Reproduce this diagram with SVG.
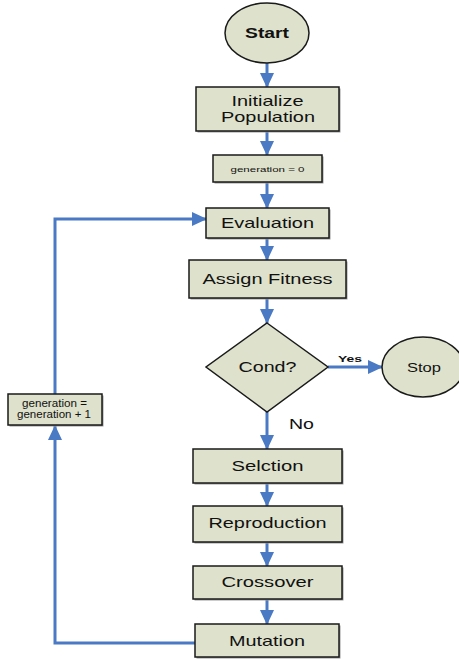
<svg xmlns="http://www.w3.org/2000/svg" width="459" height="659" viewBox="0 0 459 659">
<style>
.n{fill:#dee1cb;stroke:#1a1a1a;stroke-width:1.5}
.sh{fill:#9a9a9a;stroke:none}
.t{font-family:"Liberation Sans",Arial,sans-serif;fill:#111;text-anchor:middle}
.c{fill:none;stroke:#4a7ac4;stroke-width:3}
</style>
<defs>
<marker id="ah" markerUnits="userSpaceOnUse" markerWidth="15" markerHeight="14" refX="14" refY="7" orient="auto">
<path d="M0,0 L15,7 L0,14 Z" fill="#4a7ac4"/>
</marker>
</defs>
<rect width="459" height="659" fill="#fff"/>
<g id="connectors">
<line class="c" x1="267" y1="63" x2="267" y2="87" marker-end="url(#ah)"/>
<line class="c" x1="267" y1="131" x2="267" y2="155" marker-end="url(#ah)"/>
<line class="c" x1="267" y1="182" x2="267" y2="208" marker-end="url(#ah)"/>
<line class="c" x1="267" y1="238" x2="267" y2="260" marker-end="url(#ah)"/>
<line class="c" x1="267" y1="298" x2="267" y2="323" marker-end="url(#ah)"/>
<line class="c" x1="328" y1="367" x2="382" y2="367" marker-end="url(#ah)"/>
<line class="c" x1="267" y1="412" x2="267" y2="449" marker-end="url(#ah)"/>
<line class="c" x1="267" y1="483" x2="267" y2="506" marker-end="url(#ah)"/>
<line class="c" x1="267" y1="542" x2="267" y2="566" marker-end="url(#ah)"/>
<line class="c" x1="267" y1="599" x2="267" y2="624" marker-end="url(#ah)"/>
<polyline class="c" points="195,643 55,643 55,426" marker-end="url(#ah)"/>
<polyline class="c" points="55,394 55,219 206,219" marker-end="url(#ah)"/>
<text class="t" x="350" y="362" font-size="9.5" font-weight="bold" textLength="24" lengthAdjust="spacingAndGlyphs">Yes</text>
<text class="t" x="301.5" y="429" font-size="14.5" textLength="25" lengthAdjust="spacingAndGlyphs">No</text>
</g>
<g id="start">
<ellipse class="n" cx="267" cy="33" rx="42" ry="30"/>
<text class="t" x="267" y="38" font-size="14.5" font-weight="bold" textLength="44" lengthAdjust="spacingAndGlyphs">Start</text>
</g>
<g id="init">
<rect class="sh" x="197.5" y="88.5" width="143" height="44"/>
<rect class="n" x="196" y="87" width="143" height="44"/>
<text class="t" x="267.5" y="106" font-size="14.5" textLength="72" lengthAdjust="spacingAndGlyphs">Initialize</text>
<text class="t" x="268" y="122" font-size="14.5" textLength="94" lengthAdjust="spacingAndGlyphs">Population</text>
</g>
<g id="gen0">
<rect class="sh" x="214.5" y="156.5" width="109" height="27"/>
<rect class="n" x="213" y="155" width="109" height="27"/>
<text class="t" x="267.5" y="172" font-size="8" textLength="74" lengthAdjust="spacingAndGlyphs">generation = 0</text>
</g>
<g id="evaluation">
<rect class="sh" x="207.5" y="209.5" width="123" height="30"/>
<rect class="n" x="206" y="208" width="123" height="30"/>
<text class="t" x="267.5" y="228" font-size="14.5" textLength="93" lengthAdjust="spacingAndGlyphs">Evaluation</text>
</g>
<g id="fitness">
<rect class="sh" x="190.5" y="261.5" width="157" height="38"/>
<rect class="n" x="189" y="260" width="157" height="38"/>
<text class="t" x="267.5" y="284" font-size="14.5" textLength="130" lengthAdjust="spacingAndGlyphs">Assign Fitness</text>
</g>
<g id="cond">
<polygon class="n" points="267,323 328,367 267,412 206,367"/>
<text class="t" x="267.5" y="372" font-size="14.5" textLength="58" lengthAdjust="spacingAndGlyphs">Cond?</text>
</g>
<g id="stop">
<ellipse class="n" cx="423" cy="367" rx="41" ry="30"/>
<text class="t" x="424" y="372" font-size="12" textLength="34" lengthAdjust="spacingAndGlyphs">Stop</text>
</g>
<g id="selection">
<rect class="sh" x="194.5" y="450.5" width="149" height="34"/>
<rect class="n" x="193" y="449" width="149" height="34"/>
<text class="t" x="267.5" y="471" font-size="14.5" textLength="72" lengthAdjust="spacingAndGlyphs">Selction</text>
</g>
<g id="reproduction">
<rect class="sh" x="194.5" y="507.5" width="149" height="36"/>
<rect class="n" x="193" y="506" width="149" height="36"/>
<text class="t" x="267.5" y="528" font-size="14.5" textLength="118" lengthAdjust="spacingAndGlyphs">Reproduction</text>
</g>
<g id="crossover">
<rect class="sh" x="194.5" y="567.5" width="149" height="33"/>
<rect class="n" x="193" y="566" width="149" height="33"/>
<text class="t" x="267.5" y="587" font-size="14.5" textLength="92" lengthAdjust="spacingAndGlyphs">Crossover</text>
</g>
<g id="mutation">
<rect class="sh" x="196.5" y="625.5" width="144" height="33"/>
<rect class="n" x="195" y="624" width="144" height="33"/>
<text class="t" x="267" y="646" font-size="14.5" textLength="76" lengthAdjust="spacingAndGlyphs">Mutation</text>
</g>
<g id="genplus">
<rect class="sh" x="9.5" y="395.5" width="94" height="31"/>
<rect class="n" x="8" y="394" width="94" height="31"/>
<text class="t" x="54.5" y="407" font-size="10" textLength="65" lengthAdjust="spacingAndGlyphs">generation =</text>
<text class="t" x="54" y="418" font-size="10" textLength="74" lengthAdjust="spacingAndGlyphs">generation + 1</text>
</g>
</svg>
